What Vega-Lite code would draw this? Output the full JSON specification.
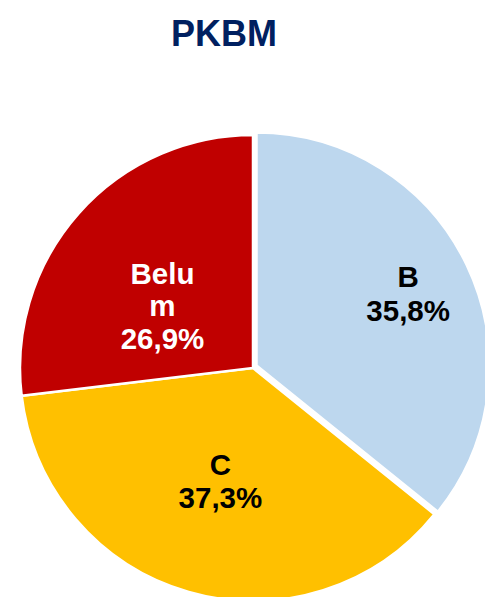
{
  "$schema": "https://vega.github.io/schema/vega-lite/v6.json",
  "autosize": {"type": "none"},
  "padding": {"left": 0, "top": 80, "right": 0, "bottom": 0},
  "width": 506,
  "height": 576,
  "background": "white",
  "title": {
    "text": "PKBM",
    "font": "Liberation Sans",
    "fontSize": 36,
    "fontWeight": "bold",
    "color": "#002060",
    "anchor": "middle",
    "baseline": "alphabetic",
    "offset": 34,
    "dx": -29,
    "dy": 36
  },
  "data": {
    "values": [
      {"category": "B", "value": 35.8, "order": 1, "label": "B\n35,8%"},
      {"category": "C", "value": 37.3, "order": 2, "label": "C\n37,3%"},
      {"category": "Belum", "value": 26.9, "order": 3, "label": "Belu\nm\n26,9%"}
    ]
  },
  "transform": [
    {"stack": "value", "groupby": [], "sort": [{"field": "order"}], "as": ["start", "end"]},
    {"calculate": "(datum.start + datum.end) / 2", "as": "mid"}
  ],
  "view": {"stroke": null},
  "layer": [
    {
      "transform": [{"filter": "datum.category !== 'B'"}],
      "mark": {"type": "arc", "outerRadius": 233, "stroke": "white", "strokeWidth": 2.5},
      "encoding": {
        "theta": {"field": "start", "type": "quantitative", "scale": {"domain": [0, 100]}},
        "theta2": {"field": "end"},
        "color": {
          "field": "category", "type": "nominal",
          "scale": {"domain": ["B", "C", "Belum"], "range": ["#BDD7EE", "#FFC000", "#C00000"]},
          "legend": null
        }
      }
    },
    {
      "transform": [{"filter": "datum.category === 'B'"}],
      "mark": {"type": "arc", "outerRadius": 233, "stroke": "white", "strokeWidth": 2.5,
               "x": {"expr": "width/2 + 3.5"}, "y": {"expr": "height/2 - 2.5"}},
      "encoding": {
        "theta": {"field": "start", "type": "quantitative", "scale": {"domain": [0, 100]}},
        "theta2": {"field": "end"},
        "color": {"field": "category", "type": "nominal", "legend": null}
      }
    },
    {
      "transform": [{"filter": "datum.category === 'B'"}],
      "mark": {"type": "text", "radius": 172, "dy": -16, "font": "Liberation Sans", "fontSize": 29.5, "fontWeight": "bold",
               "lineBreak": "\n", "lineHeight": 34, "align": "center", "baseline": "middle", "color": "black"},
      "encoding": {
        "theta": {"field": "mid", "type": "quantitative", "scale": {"domain": [0, 100]}},
        "text": {"field": "label"}
      }
    },
    {
      "transform": [{"filter": "datum.category === 'C'"}],
      "mark": {"type": "text", "radius": 118, "dy": -15, "font": "Liberation Sans", "fontSize": 29.5, "fontWeight": "bold",
               "lineBreak": "\n", "lineHeight": 33, "align": "center", "baseline": "middle", "color": "black"},
      "encoding": {
        "theta": {"field": "mid", "type": "quantitative", "scale": {"domain": [0, 100]}},
        "text": {"field": "label"}
      }
    },
    {
      "transform": [{"filter": "datum.category === 'Belum'"}],
      "mark": {"type": "text", "radius": 109, "dx": -9, "dy": -21, "font": "Liberation Sans", "fontSize": 29.5, "fontWeight": "bold",
               "lineBreak": "\n", "lineHeight": 32.5, "align": "center", "baseline": "middle", "color": "white"},
      "encoding": {
        "theta": {"field": "mid", "type": "quantitative", "scale": {"domain": [0, 100]}},
        "text": {"field": "label"}
      }
    }
  ]
}
